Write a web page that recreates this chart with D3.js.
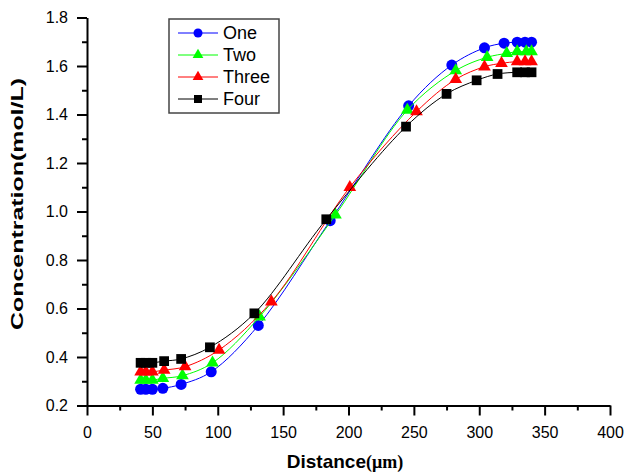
<!DOCTYPE html>
<html>
<head>
<meta charset="utf-8">
<script src="https://cdn.jsdelivr.net/npm/d3@7"></script>
<style>
  body { margin: 0; background: #fff; }
  svg { display: block; }
</style>
</head>
<body>
<svg width="628" height="473"></svg>
<script>
// data
const seriesNames = ["One", "Two", "Three", "Four"];
const xOne = [41, 45, 50, 58, 72, 95, 131, 186, 246, 279, 304, 319, 329, 335, 340];
const yOne = [0.267, 0.267, 0.267, 0.271, 0.287, 0.339, 0.53, 0.962, 1.436, 1.604, 1.675, 1.694, 1.698, 1.698, 1.698];
const xTwo = [41, 45, 50, 58, 73, 96, 132, 190, 245, 282, 306, 321, 329, 336, 340];
const yTwo = [0.305, 0.305, 0.305, 0.312, 0.323, 0.376, 0.566, 0.986, 1.418, 1.581, 1.636, 1.652, 1.659, 1.659, 1.659];
const xThree = [41, 45, 50, 59, 75, 101, 141, 201, 252, 282, 304, 317, 329, 335, 340];
const yThree = [0.339, 0.339, 0.339, 0.346, 0.36, 0.429, 0.628, 1.1, 1.412, 1.545, 1.597, 1.611, 1.618, 1.618, 1.618];
const xFour = [41, 45, 50, 59, 72, 94, 128, 183, 244, 275, 298, 314, 329, 335, 340];
const yFour = [0.376, 0.376, 0.376, 0.383, 0.392, 0.44, 0.58, 0.968, 1.35, 1.485, 1.541, 1.567, 1.574, 1.574, 1.574];
const xTicks = [0, 50, 100, 150, 200, 250, 300, 350, 400];
const yTicks = [0.2, 0.4, 0.6, 0.8, 1.0, 1.2, 1.4, 1.6, 1.8];

const svg = d3.select("svg");

const x = d3.scaleLinear().domain([0, 400]).range([87, 610]);
const y = d3.scaleLinear().domain([0.2, 1.8]).range([405.5, 17.5]);

const colors = ["#0000ff", "#00ff00", "#ff0000", "#000000"];
const symbols = [d3.symbolCircle, d3.symbolTriangle, d3.symbolTriangle, d3.symbolSquare];
const sizes = [95, 70, 70, 95];
const legendSizes = [64, 50, 50, 64];

const series = [
  d3.zip(xOne, yOne),
  d3.zip(xTwo, yTwo),
  d3.zip(xThree, yThree),
  d3.zip(xFour, yFour)
];

// axes
const minorX = d3.range(25, 400, 50);
const minorY = d3.range(0.3, 1.8, 0.2);

svg.append("g")
  .attr("transform", "translate(0,405.5)")
  .call(d3.axisBottom(x).tickValues(minorX).tickSize(5).tickSizeOuter(0).tickFormat(""))
  .call(g => g.select(".domain").remove())
  .call(g => g.selectAll("line").attr("stroke-width", 2));

svg.append("g")
  .attr("transform", "translate(87,0)")
  .call(d3.axisLeft(y).tickValues(minorY).tickSize(5).tickSizeOuter(0).tickFormat(""))
  .call(g => g.select(".domain").remove())
  .call(g => g.selectAll("line").attr("stroke-width", 2));

const xAxis = svg.append("g")
  .attr("transform", "translate(0,405.5)")
  .call(d3.axisBottom(x).tickValues(xTicks).tickSize(10).tickSizeOuter(0).tickPadding(11));

const yAxis = svg.append("g")
  .attr("transform", "translate(87,0)")
  .call(d3.axisLeft(y).tickValues(yTicks).tickSize(10).tickSizeOuter(0).tickPadding(9).tickFormat(d3.format(".1f")));

[xAxis, yAxis].forEach(g => {
  g.select(".domain").attr("stroke-width", 2);
  g.selectAll("line").attr("stroke-width", 2);
  g.selectAll("text")
    .attr("font-family", "Liberation Sans, Arial, sans-serif")
    .attr("font-size", 16)
    .attr("fill", "#000");
});

// axis titles
const xTitle = svg.append("text")
  .attr("x", 345)
  .attr("y", 468)
  .attr("text-anchor", "middle")
  .attr("font-family", "Liberation Sans, Arial, sans-serif")
  .attr("font-weight", "bold")
  .attr("font-size", 19);
xTitle.append("tspan").text("Distance");
xTitle.append("tspan")
  .attr("font-family", "Liberation Serif, Times New Roman, serif")
  .attr("font-size", 18)
  .text("(μm)");

svg.append("text")
  .attr("transform", "translate(23,204) rotate(-90)")
  .attr("text-anchor", "middle")
  .attr("font-family", "Liberation Sans, Arial, sans-serif")
  .attr("font-weight", "bold")
  .attr("font-size", 17)
  .attr("textLength", 252)
  .attr("lengthAdjust", "spacingAndGlyphs")
  .text("Concentration(mol/L)");

// series
const line = d3.line()
  .x(d => x(d[0]))
  .y(d => y(d[1]))
  .curve(d3.curveCatmullRom.alpha(0.5));

series.forEach((pts, i) => {
  svg.append("path")
    .attr("d", line(pts))
    .attr("fill", "none")
    .attr("stroke", colors[i])
    .attr("stroke-width", 1);
  svg.append("g")
    .selectAll("path")
    .data(pts)
    .join("path")
    .attr("transform", d => `translate(${x(d[0])},${y(d[1])})`)
    .attr("d", d3.symbol().type(symbols[i]).size(sizes[i]))
    .attr("fill", colors[i]);
});

// legend
const legend = svg.append("g");
legend.append("rect")
  .attr("x", 169).attr("y", 19)
  .attr("width", 110).attr("height", 94)
  .attr("fill", "#fff")
  .attr("stroke", "#444")
  .attr("stroke-width", 1.5);

seriesNames.forEach((name, i) => {
  const ly = 33 + i * 22;
  legend.append("line")
    .attr("x1", 178).attr("x2", 218)
    .attr("y1", ly).attr("y2", ly)
    .attr("stroke", colors[i])
    .attr("stroke-width", 1);
  legend.append("path")
    .attr("transform", `translate(198,${ly})`)
    .attr("d", d3.symbol().type(symbols[i]).size(legendSizes[i]))
    .attr("fill", colors[i]);
  legend.append("text")
    .attr("x", 223)
    .attr("y", ly)
    .attr("dy", "0.36em")
    .attr("font-family", "Liberation Sans, Arial, sans-serif")
    .attr("font-size", 18)
    .text(name);
});
</script>
</body>
</html>
